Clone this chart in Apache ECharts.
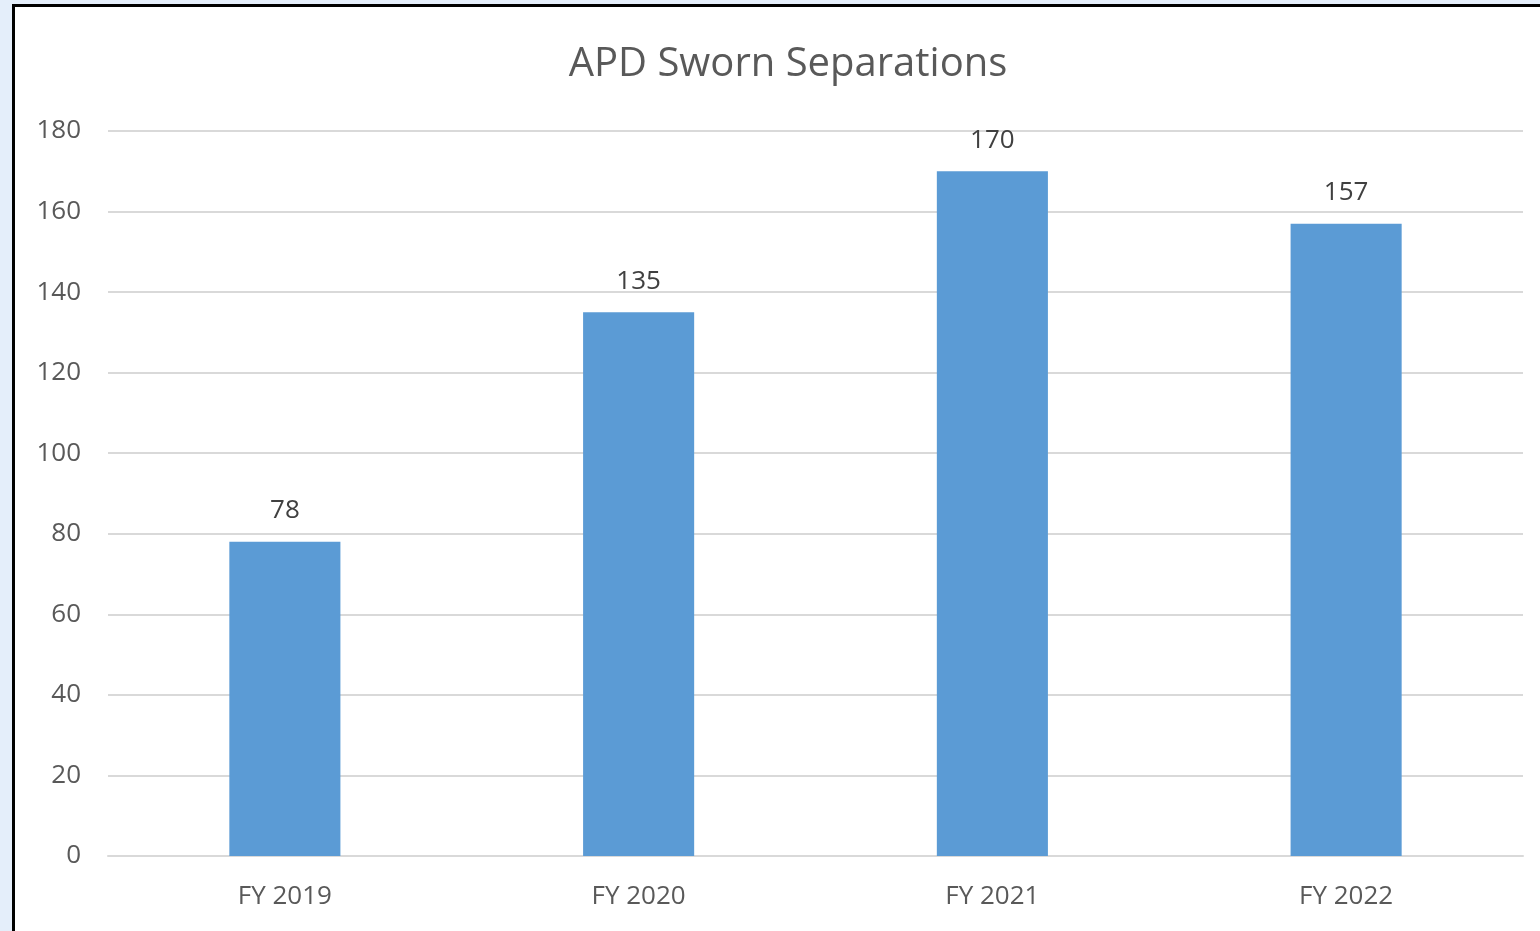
<!DOCTYPE html>
<html>
<head>
<meta charset="utf-8">
<style>
  html, body { margin: 0; padding: 0; background: #e4eefa; }
  #chart { width: 1540px; height: 931px; }
</style>
<script src="https://cdn.jsdelivr.net/npm/echarts@6/dist/echarts.min.js"></script>
</head>
<body>
<div id="chart"></div>
<script>
  // 数据
  var categories = ['FY 2019', 'FY 2020', 'FY 2021', 'FY 2022'];
  var separations = [78, 135, 170, 157];
  var yTicks = [0, 20, 40, 60, 80, 100, 120, 140, 160, 180];

  var font = '"Open Sans", "Noto Sans", sans-serif';
  var myChart = echarts.init(document.getElementById('chart'));

  var option = {
    backgroundColor: 'transparent',
    animation: false,
    // 白色图表区域和黑色边框
    graphic: [{
      type: 'rect',
      z: -10,
      shape: { x: 13.5, y: 5.5, width: 1600, height: 1000 },
      style: { fill: '#fff', stroke: '#000', lineWidth: 3 }
    }],
    title: {
      text: 'APD Sworn Separations',
      left: 783,
      top: 40,
      textAlign: 'center',
      textStyle: { fontFamily: font, fontSize: 40, fontWeight: 'normal', color: '#595959' }
    },
    grid: { left: 108, right: 17, top: 131, bottom: 75 },
    xAxis: {
      type: 'category',
      data: categories,
      axisLine: { lineStyle: { color: '#d9d9d9', width: 2 } },
      axisTick: { show: false },
      axisLabel: { margin: 28, fontFamily: font, fontSize: 26, color: '#595959' }
    },
    yAxis: {
      type: 'value',
      min: yTicks[0],
      max: yTicks[yTicks.length - 1],
      interval: yTicks[1] - yTicks[0],
      axisLine: { show: false },
      axisTick: { show: false },
      splitLine: { lineStyle: { color: '#d9d9d9', width: 2 } },
      axisLabel: { margin: 27, fontFamily: font, fontSize: 26, color: '#595959' }
    },
    series: [{
      type: 'bar',
      data: separations,
      barWidth: '31.4%',
      itemStyle: { color: '#5b9bd5' },
      label: {
        show: true,
        position: 'top',
        distance: 18,
        fontFamily: font,
        fontSize: 26,
        color: '#404040'
      }
    }]
  };
  myChart.setOption(option);
</script>
</body>
</html>
